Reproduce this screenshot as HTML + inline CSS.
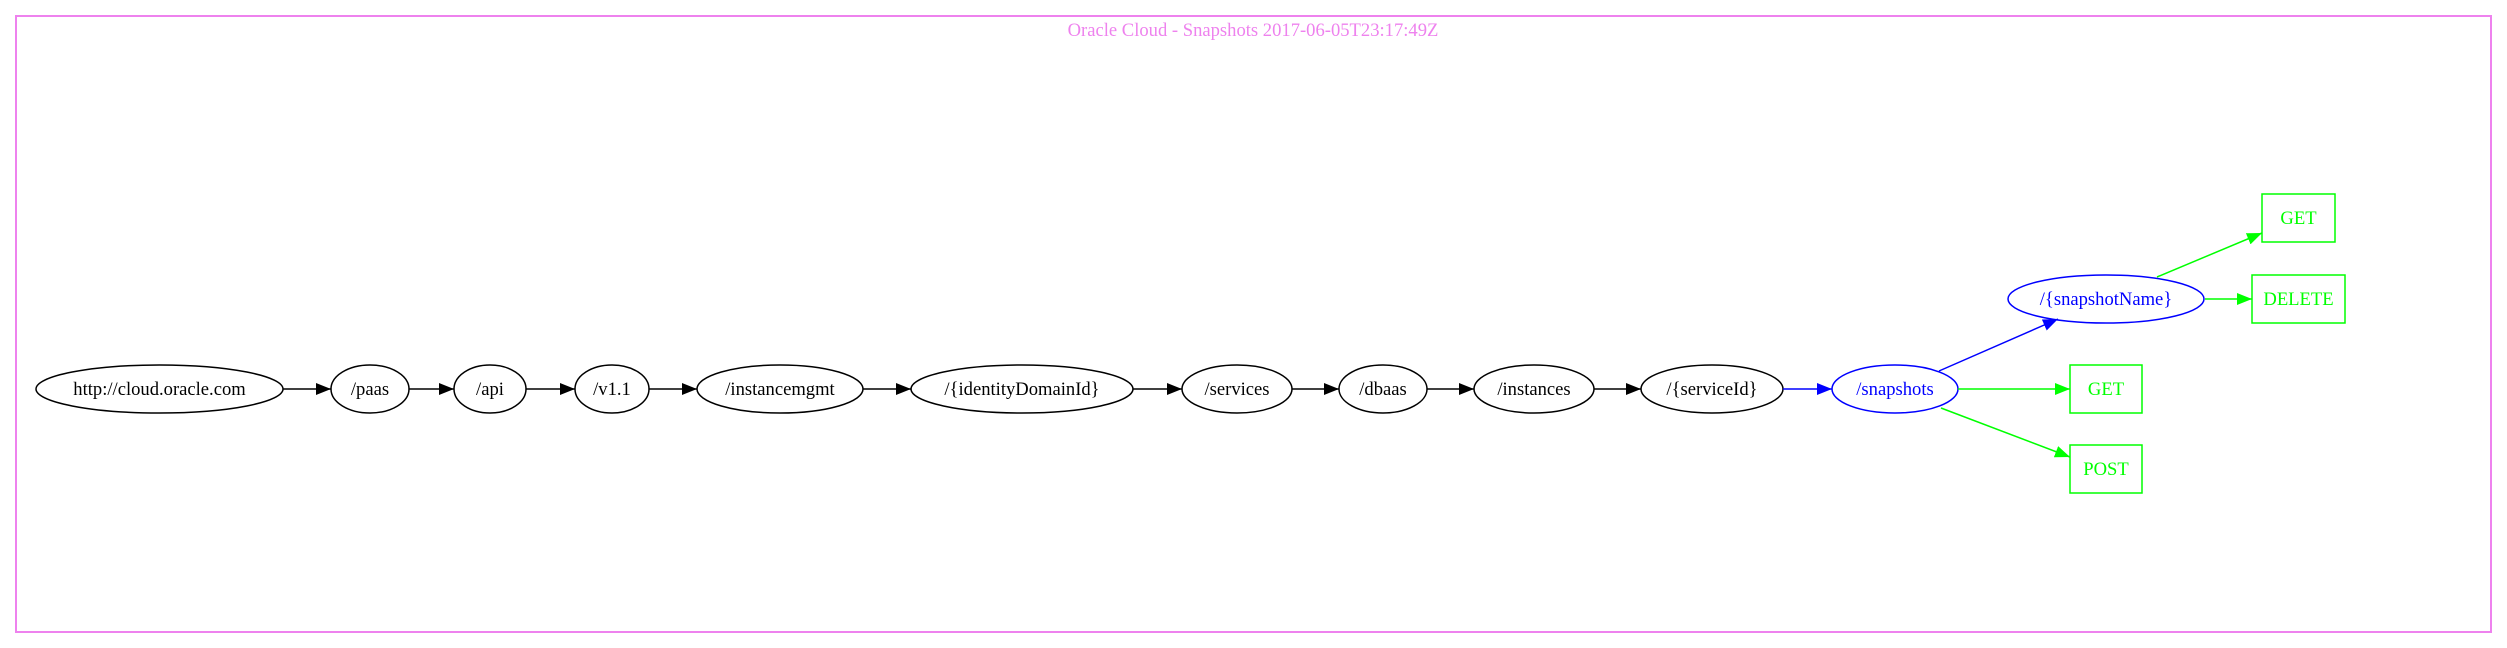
<!DOCTYPE html>
<html><head><meta charset="utf-8"><style>
html,body{margin:0;padding:0;background:#fff;}
svg{display:block;}
text{font-family:"Liberation Serif",serif;font-size:18.6px;text-anchor:middle;}
</style></head><body>
<svg width="2507" height="648" viewBox="0 0 2507 648" xmlns="http://www.w3.org/2000/svg">
<defs>
<marker id="ak" markerUnits="userSpaceOnUse" markerWidth="16" markerHeight="12" refX="15" refY="6" orient="auto"><path d="M0,0 L15,6 L0,12 Z" fill="#000"/></marker>
<marker id="ab" markerUnits="userSpaceOnUse" markerWidth="16" markerHeight="12" refX="15" refY="6" orient="auto"><path d="M0,0 L15,6 L0,12 Z" fill="#0000ff"/></marker>
<marker id="ag" markerUnits="userSpaceOnUse" markerWidth="16" markerHeight="12" refX="15" refY="6" orient="auto"><path d="M0,0 L15,6 L0,12 Z" fill="#00ff00"/></marker>
</defs>
<rect x="16" y="16" width="2475" height="616" fill="none" stroke="#ee82ee" stroke-width="2"/>
<text x="1253" y="36" fill="#ee82ee">Oracle Cloud - Snapshots 2017-06-05T23:17:49Z</text>

<g fill="none" stroke="#000" stroke-width="1.5">
<ellipse cx="159.5" cy="389" rx="123.5" ry="24"/>
<ellipse cx="370" cy="389" rx="39" ry="24"/>
<ellipse cx="490" cy="389" rx="36" ry="24"/>
<ellipse cx="612" cy="389" rx="37" ry="24"/>
<ellipse cx="780" cy="389" rx="83" ry="24"/>
<ellipse cx="1022" cy="389" rx="111" ry="24"/>
<ellipse cx="1237" cy="389" rx="55" ry="24"/>
<ellipse cx="1383" cy="389" rx="44" ry="24"/>
<ellipse cx="1534" cy="389" rx="60" ry="24"/>
<ellipse cx="1712" cy="389" rx="71" ry="24"/>
<line x1="283" y1="389" x2="331" y2="389" marker-end="url(#ak)"/>
<line x1="409" y1="389" x2="454" y2="389" marker-end="url(#ak)"/>
<line x1="526" y1="389" x2="575" y2="389" marker-end="url(#ak)"/>
<line x1="649" y1="389" x2="697" y2="389" marker-end="url(#ak)"/>
<line x1="863" y1="389" x2="911" y2="389" marker-end="url(#ak)"/>
<line x1="1133" y1="389" x2="1182" y2="389" marker-end="url(#ak)"/>
<line x1="1292" y1="389" x2="1339" y2="389" marker-end="url(#ak)"/>
<line x1="1427" y1="389" x2="1474" y2="389" marker-end="url(#ak)"/>
<line x1="1594" y1="389" x2="1641" y2="389" marker-end="url(#ak)"/>
</g>
<g fill="none" stroke="#0000ff" stroke-width="1.5">
<ellipse cx="1895" cy="389" rx="63" ry="24"/>
<ellipse cx="2106" cy="299" rx="98" ry="24"/>
<line x1="1783" y1="389" x2="1832" y2="389" marker-end="url(#ab)"/>
<line x1="1939" y1="371" x2="2058" y2="319" marker-end="url(#ab)"/>
</g>
<g fill="none" stroke="#00ff00" stroke-width="1.5">
<rect x="2262" y="194" width="73" height="48"/>
<rect x="2252" y="275" width="93" height="48"/>
<rect x="2070" y="365" width="72" height="48"/>
<rect x="2070" y="445" width="72" height="48"/>
<line x1="1958" y1="389" x2="2070" y2="389" marker-end="url(#ag)"/>
<line x1="1941" y1="408" x2="2070" y2="457" marker-end="url(#ag)"/>
<line x1="2157" y1="277" x2="2262" y2="233" marker-end="url(#ag)"/>
<line x1="2205" y1="299" x2="2252" y2="299" marker-end="url(#ag)"/>
</g>
<g fill="#000">
<text x="159.5" y="395">http://cloud.oracle.com</text>
<text x="370" y="395">/paas</text>
<text x="490" y="395">/api</text>
<text x="612" y="395">/v1.1</text>
<text x="780" y="395">/instancemgmt</text>
<text x="1022" y="395">/{identityDomainId}</text>
<text x="1237" y="395">/services</text>
<text x="1383" y="395">/dbaas</text>
<text x="1534" y="395">/instances</text>
<text x="1712" y="395">/{serviceId}</text>
</g>
<g fill="#0000ff">
<text x="1895" y="395">/snapshots</text>
<text x="2106" y="305">/{snapshotName}</text>
</g>
<g fill="#00ff00">
<text x="2298.5" y="224">GET</text>
<text x="2298.5" y="305">DELETE</text>
<text x="2106" y="395">GET</text>
<text x="2106" y="475">POST</text>
</g>
</svg>
</body></html>
